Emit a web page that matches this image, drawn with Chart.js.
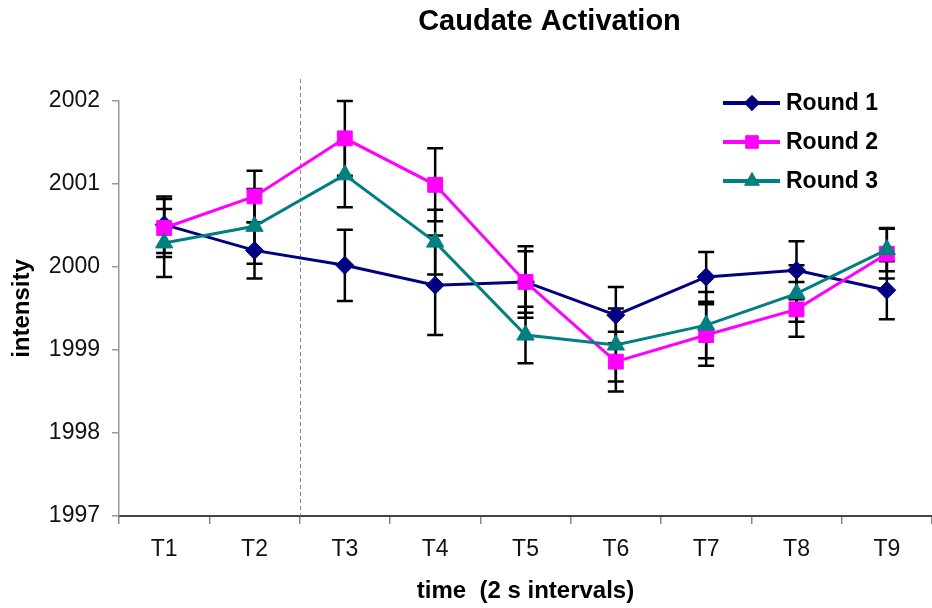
<!DOCTYPE html>
<html>
<head>
<meta charset="utf-8">
<title>Caudate Activation</title>
<script src="https://cdn.jsdelivr.net/npm/chart.js@4.4.0/dist/chart.umd.min.js"></script>
<style>
    html, body { margin: 0; padding: 0; background: #ffffff; }
    #wrap { width: 932px; height: 608px; }
</style>
</head>
<body>
<div id="wrap"><canvas id="caudateChart" width="932" height="608"></canvas></div>
<script>
/* -----------------------------------------------------------
   DATA
----------------------------------------------------------- */

const chartTitle = "Caudate Activation";
const timeLabels = ["T1", "T2", "T3", "T4", "T5", "T6", "T7", "T8", "T9"];
const yTicks = [1997, 1998, 1999, 2000, 2001, 2002];

const round1 = [2000.51, 2000.20, 2000.02, 1999.78, 1999.82, 1999.42, 1999.88, 1999.96, 1999.72];
const round1Err = [0.34, 0.34, 0.43, 0.60, 0.43, 0.34, 0.30, 0.35, 0.35];

const round2 = [2000.47, 2000.85, 2001.55, 2000.99, 1999.82, 1998.86, 1999.18, 1999.49, 2000.16];
const round2Err = [0.35, 0.31, 0.45, 0.44, 0.37, 0.36, 0.37, 0.33, 0.30];

const round3 = [2000.29, 2000.49, 2001.11, 2000.30, 1999.18, 1999.06, 1999.30, 1999.68, 2000.21];
const round3Err = [0.41, 0.45, 0.39, 0.39, 0.34, 0.44, 0.40, 0.34, 0.26];

// dashed marker sits between T2 and T3 (category units)
const onsetPosition = 1.5;

/* -----------------------------------------------------------
   GLOBAL SETTINGS
----------------------------------------------------------- */

Chart.defaults.font.family = "'Liberation Sans', Arial, sans-serif";
Chart.defaults.color = "#111111";

const series = [
    { label: "Round 1", data: round1, err: round1Err, color: "#000080", style: "rectRot", radius: 9, order: 2 },
    { label: "Round 2", data: round2, err: round2Err, color: "#ff00ff", style: "rect", radius: 10.5, order: 1 },
    { label: "Round 3", data: round3, err: round3Err, color: "#008080", style: "triangle", radius: 10, order: 0 }
];

/* Error bars, drawn under the lines */
const errorBars = {
    id: "errorBars",
    beforeDatasetsDraw: (chart) => {
        const ctx = chart.ctx;
        const xs = chart.scales.x;
        const ys = chart.scales.y;
        ctx.save();
        ctx.strokeStyle = "#000000";
        ctx.lineWidth = 2.5;
        series.forEach(s => {
            s.data.forEach((v, i) => {
                const x = xs.getPixelForValue(i);
                const top = ys.getPixelForValue(v + s.err[i]);
                const bot = ys.getPixelForValue(v - s.err[i]);
                ctx.beginPath();
                ctx.moveTo(x, top);
                ctx.lineTo(x, bot);
                ctx.moveTo(x - 8, top);
                ctx.lineTo(x + 8, top);
                ctx.moveTo(x - 8, bot);
                ctx.lineTo(x + 8, bot);
                ctx.stroke();
            });
        });
        ctx.restore();
    }
};

/* Dashed divider between T2 and T3 */
const onsetLine = {
    id: "onsetLine",
    beforeDatasetsDraw: (chart) => {
        const ctx = chart.ctx;
        const x = Math.round(chart.scales.x.getPixelForValue(onsetPosition)) + 0.5;
        const area = chart.chartArea;
        ctx.save();
        ctx.strokeStyle = "#888888";
        ctx.lineWidth = 1;
        ctx.setLineDash([4, 3]);
        ctx.beginPath();
        ctx.moveTo(x, area.top - 22);
        ctx.lineTo(x, area.bottom);
        ctx.stroke();
        ctx.restore();
    }
};

/* Title and Excel-style legend (line + marker) */
const titleAndLegend = {
    id: "titleAndLegend",
    afterDraw: (chart) => {
        const ctx = chart.ctx;
        const area = chart.chartArea;
        ctx.save();

        ctx.fillStyle = "#000000";
        ctx.font = "bold 29px 'Liberation Sans', Arial, sans-serif";
        ctx.textAlign = "center";
        ctx.textBaseline = "middle";
        ctx.fillText(chartTitle, (area.left + area.right) / 2 + 24, 22);

        const lx = area.right - 209;
        ctx.font = "bold 23px 'Liberation Sans', Arial, sans-serif";
        ctx.textAlign = "left";
        series.forEach((s, i) => {
            const y = area.top + 2 + i * 39;
            ctx.strokeStyle = s.color;
            ctx.fillStyle = s.color;
            ctx.lineWidth = 4;
            ctx.beginPath();
            ctx.moveTo(lx, y);
            ctx.lineTo(lx + 57, y);
            ctx.stroke();
            ctx.lineWidth = 1;
            Chart.helpers.drawPoint(ctx, { pointStyle: s.style, radius: s.radius * 0.85, borderWidth: 1, rotation: 0 }, lx + 29, y);
            ctx.fillStyle = "#000000";
            ctx.fillText(s.label, lx + 63, y + 1);
        });

        ctx.restore();
    }
};

/* -----------------------------------------------------------
   CHART
----------------------------------------------------------- */

const ctx = document.getElementById("caudateChart").getContext("2d");

new Chart(ctx, {
    type: "line",
    data: {
        labels: timeLabels,
        datasets: series.map(s => ({
            label: s.label,
            data: s.data,
            order: s.order,
            borderColor: s.color,
            backgroundColor: s.color,
            borderWidth: 3,
            pointStyle: s.style,
            pointRadius: s.radius,
            pointHoverRadius: s.radius,
            pointBorderWidth: 1,
            pointBackgroundColor: s.color,
            pointBorderColor: s.color,
            tension: 0,
            fill: false
        }))
    },
    options: {
        responsive: false,
        animation: false,
        layout: { autoPadding: false, padding: { top: 101, right: 0, bottom: 0, left: 0 } },
        plugins: {
            legend: { display: false },
            title: { display: false },
            tooltip: { enabled: false }
        },
        scales: {
            x: {
                offset: true,
                grid: { offset: true, drawOnChartArea: false, tickLength: 8, color: "#888888", lineWidth: 1.5 },
                border: { color: "#444444", width: 2 },
                ticks: { font: { size: 23 }, color: "#111111", padding: 12 },
                title: {
                    display: true,
                    text: "time  (2 s intervals)",
                    color: "#000000",
                    font: { size: 24, weight: "bold" },
                    padding: { top: 0, bottom: 2 }
                },
                afterFit: (s) => {
                    s.height = 92;
                    s.paddingLeft = 0;
                    s.paddingRight = 0;
                }
            },
            y: {
                min: yTicks[0],
                max: yTicks[yTicks.length - 1],
                afterBuildTicks: (s) => { s.ticks = yTicks.map(v => ({ value: v })); },
                grid: { drawOnChartArea: false, tickLength: 7, color: "#999999", lineWidth: 1.5 },
                border: { color: "#999999", width: 1.5 },
                ticks: {
                    font: { size: 23 },
                    color: "#111111",
                    padding: 12,
                    callback: (v) => String(v)
                },
                title: {
                    display: true,
                    text: "intensity",
                    color: "#000000",
                    font: { size: 24, weight: "bold" },
                    padding: { top: 8, bottom: 0 }
                },
                afterFit: (s) => { s.width = 119; }
            }
        }
    },
    plugins: [onsetLine, errorBars, titleAndLegend]
});
</script>
</body>
</html>
